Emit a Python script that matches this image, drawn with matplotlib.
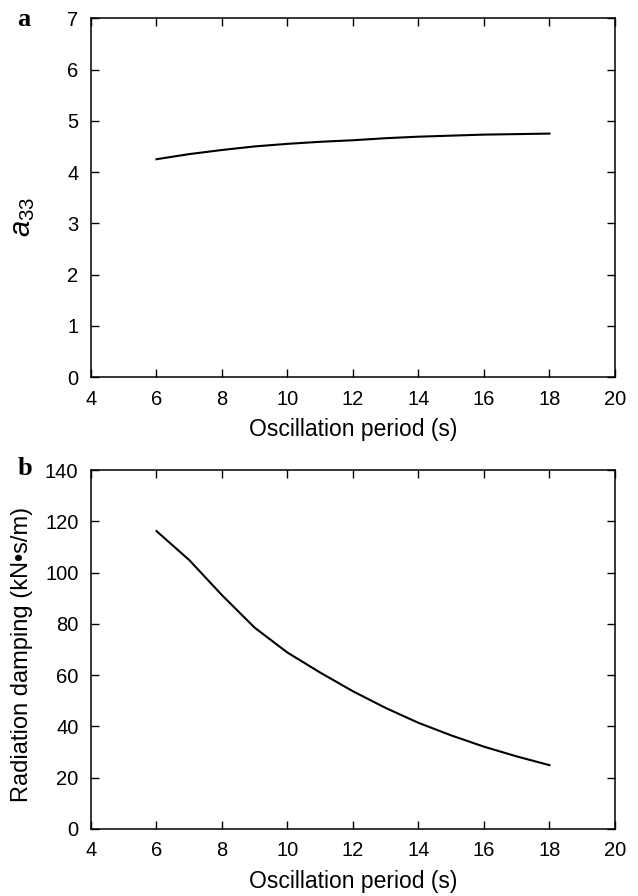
import numpy as np
import matplotlib
matplotlib.use('Agg')
import matplotlib.pyplot as plt

# --- Global Plot Settings ---
plt.rcParams.update({'font.family': 'Liberation Sans', 'font.size': 14.5,
                     'mathtext.fontset': 'custom',
                     'mathtext.it': 'Liberation Sans:italic',
                     'mathtext.rm': 'Liberation Sans'})

# --- Data Definition ---
period = [6, 7, 8, 9, 10, 11, 12, 13, 14, 15, 16, 17, 18]
added_mass = [4.25, 4.35, 4.43, 4.50, 4.55, 4.59, 4.62, 4.66, 4.69, 4.71, 4.73, 4.74, 4.75]
damping = [116.2, 104.9, 91.2, 78.5, 68.8, 61.0, 53.7, 47.2, 41.4, 36.5, 32.1, 28.3, 24.9]

xticks = [4, 6, 8, 10, 12, 14, 16, 18, 20]

fig = plt.figure(figsize=(6.38, 8.96), dpi=100)
ax1 = fig.add_axes([0.1426, 0.5792, 0.8213, 0.4004])
ax2 = fig.add_axes([0.1426, 0.0748, 0.8213, 0.4006])

for ax in (ax1, ax2):
    ax.set_xlim(4, 20)
    ax.set_xticks(xticks)
    ax.tick_params(direction='in', length=6, width=1, top=True, right=True,
                   labelsize=14.5, pad=9)
    for s in ax.spines.values():
        s.set_linewidth(1.1)
    ax.set_xlabel('Oscillation period (s)', fontsize=16.5, labelpad=7)

# --- Panel a ---
ax1.plot(period, added_mass, color='black', linewidth=1.5)
ax1.set_ylim(0, 7)
ax1.set_yticks(range(0, 8))
ax1.set_ylabel(r'$a_{33}$', fontsize=21)
ax1.yaxis.set_label_coords(-0.103, 0.446)

# --- Panel b ---
ax2.plot(period, damping, color='black', linewidth=1.5)
ax2.set_ylim(0, 140)
ax2.set_yticks(range(0, 141, 20))
ax2.set_ylabel('Radiation damping (kN\u2022s/m)', fontsize=17)
ax2.yaxis.set_label_coords(-0.111, 0.485)

# panel letters
fig.text(0.027, 0.971, 'a', fontsize=19, fontweight='bold', family='Liberation Serif', va='baseline')
fig.text(0.027, 0.470, 'b', fontsize=19, fontweight='bold', family='Liberation Serif', va='baseline')

plt.savefig('out.png', dpi=100, facecolor='white')
